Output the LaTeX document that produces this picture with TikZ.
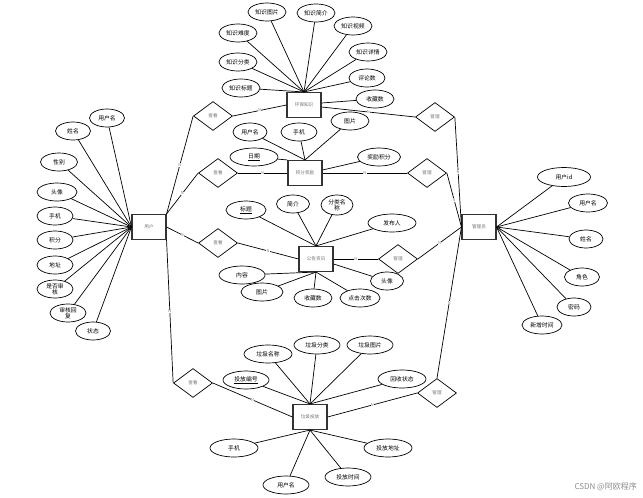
\documentclass[tikz,border=0pt]{standalone}
\usepackage{fontspec}
\setmainfont{Noto Sans CJK SC}
\usetikzlibrary{shapes.geometric}
\begin{document}
\begin{tikzpicture}[x=1pt,y=-1pt,
 attr/.style={draw,ellipse,line width=0.7pt,inner sep=0.5pt,minimum height=18,minimum width=38,font=\fontsize{5.8}{6.3}\selectfont,align=center},
 ent/.style={draw=black!80,line width=1.1pt,minimum width=34,minimum height=25,inner sep=0,font=\fontsize{4.6}{5}\selectfont,text=black!55},
 rel/.style={draw,diamond,line width=0.7pt,minimum width=39,minimum height=29,inner sep=0,font=\fontsize{4.6}{5}\selectfont,text=black!55},
 conn/.style={line width=0.7pt},
 card/.style={font=\fontsize{4}{4}\selectfont,text=black!50,inner sep=0.3pt,fill=white}
]
\useasboundingbox (0,0) rectangle (643,498);

% entities
\node[ent] (user) at (149,227) {用户};
\node[ent] (hb) at (304,105) {环保知识};
\node[ent] (jf) at (305,173) {积分奖励};
\node[ent] (gg) at (316,259) {公告资讯};
\node[ent] (lj) at (310,417) {垃圾投放};
\node[ent] (adm) at (479,227) {管理员};

% relationships
\node[rel] (ck1) at (213,116) {查看};
\node[rel] (ck2) at (218,173) {查看};
\node[rel] (ck3) at (218,243) {查看};
\node[rel] (ck4) at (193,383) {查看};
\node[rel] (gl1) at (435,117) {管理};
\node[rel] (gl2) at (427,173) {管理};
\node[rel] (gl3) at (398,259) {管理};
\node[rel] (gl4) at (437,393) {管理};

% relationship connectors
\draw[conn] (user.north east) -- node[card]{N} (ck1.west);
\draw[conn] (user.north east) -- node[card]{N} (ck2.west);
\draw[conn] (user.east) -- node[card]{N} (ck3.west);
\draw[conn] (user.south east) -- node[card]{N} (ck4.west);
\draw[conn] (ck1.east) -- node[card]{N} (hb.west);
\draw[conn] (ck2.east) -- node[card]{N} (jf.west);
\draw[conn] (ck3.east) -- node[card]{N} (gg.west);
\draw[conn] (ck4.east) -- node[card]{N} (lj.west);
\draw[conn] (gl1.east) -- node[card]{N} (adm.west);
\draw[conn] (gl2.east) -- node[card]{N} (adm.west);
\draw[conn] (gl3.east) -- node[card]{N} (adm.west);
\draw[conn] (gl4.north) -- node[card]{N} (adm.west);
\draw[conn] (gl1.west) -- node[card]{N} ([yshift=-2pt]hb.east);
\draw[conn] (gl2.west) -- node[card]{N} (jf.east);
\draw[conn] (gl3.west) -- node[card]{N} (gg.east);
\draw[conn] (gl4.west) -- node[card]{N} (lj.east);

% user attributes
\node[attr,minimum width=35] (u1) at (107,118) {用户名};
\node[attr,minimum width=35] (u2) at (73,131) {姓名};
\node[attr,minimum width=37] (u3) at (59,162) {性别};
\node[attr,minimum width=40] (u4) at (57,192) {头像};
\node[attr,minimum width=36] (u5) at (55,216) {手机};
\node[attr,minimum width=36] (u6) at (55,240) {积分};
\node[attr,minimum width=36] (u7) at (55,265) {地址};
\node[attr,minimum width=36] (u8) at (55,289) {是否审\\核};
\node[attr,minimum width=36] (u9) at (68,313) {审核回\\复};
\node[attr,minimum width=35] (u10) at (93,331) {状态};
\foreach \a in {u1,u2,u3,u4,u5,u6,u7,u8,u9,u10} \draw[conn] (\a) -- (user.west);

% 环保知识 attributes
\node[attr] (h1) at (267,12) {知识图片};
\node[attr] (h2) at (316,13) {知识简介};
\node[attr] (h3) at (353,26) {知识视频};
\node[attr] (h4) at (368,52) {知识详情};
\node[attr,minimum width=36] (h5) at (367,78) {评论数};
\node[attr,minimum width=38] (h6) at (375,99) {收藏数};
\node[attr] (h7) at (241,88) {知识标题};
\node[attr] (h8) at (238,62) {知识分类};
\node[attr] (h9) at (238,33) {知识难度};
\foreach \a in {h1,h2,h3,h4,h5,h7,h8,h9} \draw[conn] (\a) -- (hb.north);
\draw[conn] (h6) -- ([yshift=2pt]hb.east);

% 积分奖励 attributes
\node[attr,minimum width=34] (j1) at (250,132) {用户名};
\node[attr,minimum width=36] (j2) at (299,132) {手机};
\node[attr,minimum width=38] (j3) at (350,121) {图片};
\node[attr,minimum width=48] (j4) at (254,157) {\underline{日期}};
\node[attr,minimum width=43] (j5) at (379,157) {奖励积分};
\foreach \a in {j1,j2,j3} \draw[conn] (\a) -- (jf.north);
\draw[conn] (j4) -- (jf.north west);
\draw[conn] (j5) -- ([yshift=3pt]jf.east);

% 公告资讯 attributes
\node[attr,minimum width=40] (g1) at (246,210) {\underline{标题}};
\node[attr,minimum width=33] (g2) at (293,204) {简介};
\node[attr,minimum width=32,minimum height=20] (g3) at (337,205) {分类名\\称};
\node[attr,minimum width=48] (g4) at (392,223) {发布人};
\node[attr,minimum width=33] (g5) at (387,281) {头像};
\node[attr,minimum width=40] (g6) at (360,298) {点击次数};
\node[attr,minimum width=38] (g7) at (313,298) {收藏数};
\node[attr,minimum width=42] (g8) at (262,292) {图片};
\node[attr,minimum width=46] (g9) at (242,275) {内容};
\foreach \a in {g1,g2,g3,g4} \draw[conn] (\a) -- (gg.north);
\foreach \a in {g6,g7,g8,g9} \draw[conn] (\a) -- (gg.south);
\draw[conn] (g5) -- ([yshift=-5pt]gg.east);

% 垃圾投放 attributes
\node[attr,minimum width=48] (l1) at (268,354) {垃圾名称};
\node[attr,minimum width=46] (l2) at (317,345) {垃圾分类};
\node[attr,minimum width=46] (l3) at (370,345) {垃圾图片};
\node[attr,minimum width=48] (l4) at (402,379) {回收状态};
\node[attr,minimum width=46] (l5) at (246,380) {\underline{投放编号}};
\node[attr,minimum width=48] (l6) at (234,448) {手机};
\node[attr,minimum width=46] (l7) at (286,485) {用户名};
\node[attr,minimum width=46] (l8) at (348,477) {投放时间};
\node[attr,minimum width=48] (l9) at (388,448) {投放地址};
\foreach \a in {l1,l2,l3,l4,l5} \draw[conn] (\a) -- (lj.north);
\foreach \a in {l6,l7,l8,l9} \draw[conn] (\a) -- (lj.south);

% 管理员 attributes
\node[attr,minimum width=53,minimum height=19] (a1) at (564,177) {用户id};
\node[attr,minimum width=39] (a2) at (588,203) {用户名};
\node[attr,minimum width=34] (a3) at (586,239) {姓名};
\node[attr,minimum width=35] (a4) at (582,277) {角色};
\node[attr,minimum width=34] (a5) at (574,307) {密码};
\node[attr,minimum width=40] (a6) at (542,325) {新增时间};
\foreach \a in {a1,a2,a3,a4,a5,a6} \draw[conn] (\a) -- (adm.east);

% watermark
\node[font=\fontsize{8}{9}\selectfont,text=black!45,anchor=east,inner sep=0] (wm) at (637,487) {CSDN @阿欧程序};
\end{tikzpicture}
\end{document}
